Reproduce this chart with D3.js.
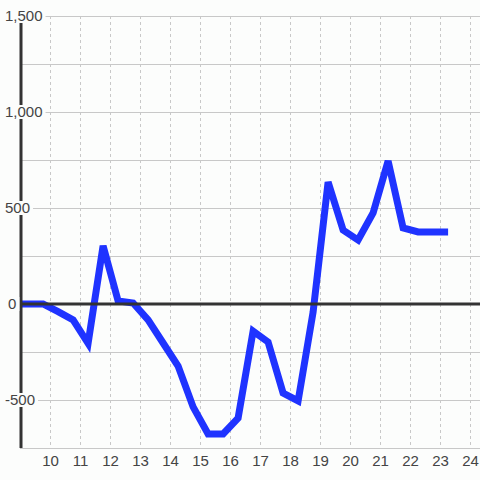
<!DOCTYPE html>
<html>
<head>
<meta charset="utf-8">
<script src="https://cdn.jsdelivr.net/npm/d3@7"></script>
<style>
  html, body { margin: 0; padding: 0; background: #fcfdfc; }
  svg { display: block; font-family: "Liberation Sans", Arial, sans-serif; }
</style>
</head>
<body>
<div id="line-chart"></div>
<script>
const xValues = [8.77, 9.27, 9.77, 10.27, 10.77, 11.27, 11.77, 12.27, 12.77, 13.27, 13.77, 14.27,
  14.77, 15.27, 15.77, 16.27, 16.77, 17.27, 17.77, 18.27, 18.77, 19.27, 19.77, 20.27,
  20.77, 21.27, 21.77, 22.27, 22.77, 23.27];
const yValues = [0, 0, 0, -40, -83, -205, 303, 16, 5, -83, -203, -323,
  -536, -677, -677, -594, -141, -198, -464, -505, -42, 635, 385, 333,
  474, 745, 396, 375, 375, 375];
const xTicks = [10, 11, 12, 13, 14, 15, 16, 17, 18, 19, 20, 21, 22, 23, 24];
const yTicks = [1500, 1000, 500, 0, -500];
const yGrid = [1500, 1250, 1000, 750, 500, 250, -250, -500, -750];

const data = xValues.map((x, i) => ({ x, value: yValues[i] }));

const width = 480;
const height = 480;
const margin = { top: 16, right: 0, bottom: 32, left: 20 };
const lineColor = "#1f33ff";
const axisColor = "#333";
const gridColor = "#c8c8c8";
const bgColor = "#fcfdfc";

const svg = d3.select("#line-chart").append("svg")
  .attr("width", width).attr("height", height)
  .attr("viewBox", [0, 0, width, height]);

const x = d3.scaleLinear()
  .domain([9, 9 + (width - margin.left) / 30])
  .range([margin.left, width - margin.right]);

const y = d3.scaleLinear()
  .domain([-750, 1500])
  .range([height - margin.bottom, margin.top]);

// clip
svg.append("defs").append("clipPath").attr("id", "plot")
  .append("rect")
  .attr("x", margin.left).attr("y", margin.top)
  .attr("width", width - margin.left - margin.right)
  .attr("height", height - margin.top - margin.bottom);

// grid horizontal
svg.append("g")
  .selectAll("line")
  .data(yGrid)
  .join("line")
  .attr("x1", margin.left).attr("x2", width)
  .attr("y1", (d) => y(d)).attr("y2", (d) => y(d))
  .attr("stroke", gridColor).attr("stroke-width", 1)
  .attr("shape-rendering", "crispEdges");

// grid vertical dashed
svg.append("g")
  .selectAll("line")
  .data(xTicks)
  .join("line")
  .attr("x1", (d) => x(d)).attr("x2", (d) => x(d))
  .attr("y1", margin.top).attr("y2", height - margin.bottom)
  .attr("stroke", gridColor).attr("stroke-width", 1)
  .attr("stroke-dasharray", "3,3")
  .attr("shape-rendering", "crispEdges");

// x axis
const xAxis = (g) =>
  g.attr("transform", `translate(0,${height - margin.bottom})`)
    .call(d3.axisBottom(x).tickValues(xTicks).tickSize(0).tickPadding(7).tickFormat(d3.format("d")))
    .call((g) => g.select(".domain").attr("stroke", gridColor))
    .call((g) => g.selectAll("text").attr("fill", "#444").attr("font-size", 15)
      .attr("font-family", "Liberation Sans, Arial, sans-serif"));
svg.append("g").call(xAxis);

// line
svg.append("path")
  .datum(data)
  .attr("clip-path", "url(#plot)")
  .attr("fill", "none")
  .attr("stroke", lineColor)
  .attr("stroke-width", 7)
  .attr("stroke-linejoin", "miter")
  .attr("d", d3.line().x((d) => x(d.x)).y((d) => y(d.value)));

// zero line
svg.append("line")
  .attr("x1", margin.left).attr("x2", width)
  .attr("y1", y(0)).attr("y2", y(0))
  .attr("stroke", axisColor).attr("stroke-width", 3);

// y axis line
svg.append("line")
  .attr("x1", x(9) + 1).attr("x2", x(9) + 1)
  .attr("y1", margin.top).attr("y2", height - margin.bottom)
  .attr("stroke", axisColor).attr("stroke-width", 3);

// y labels with background boxes
const yLabel = svg.append("g")
  .selectAll("g")
  .data(yTicks)
  .join("g")
  .attr("transform", (d) => `translate(${d === 0 ? 8 : 5},${y(d)})`);

yLabel.append("text")
  .attr("fill", "#444")
  .attr("font-size", 15)
  .attr("dy", "0.35em")
  .text((d) => d3.format(",")(d).replace("−", "-"));

yLabel.each(function () {
  const g = d3.select(this);
  const b = g.select("text").node().getBBox();
  g.insert("rect", "text")
    .attr("x", b.x - 2).attr("y", -7)
    .attr("width", b.width + 5).attr("height", 14)
    .attr("fill", bgColor);
});
</script>
</body>
</html>
